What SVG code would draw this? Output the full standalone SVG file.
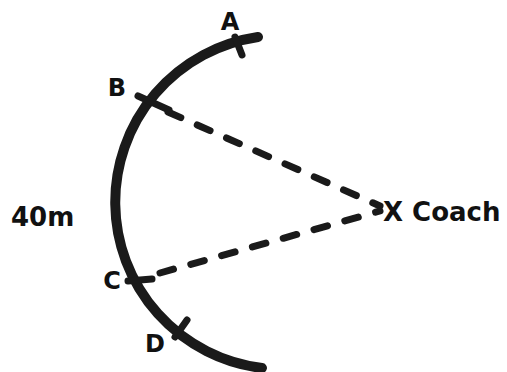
<svg xmlns="http://www.w3.org/2000/svg" width="507" height="372" viewBox="0 0 507 372">
<style>
.lbl{font-family:"DejaVu Sans","Liberation Sans",sans-serif;font-weight:bold;font-size:24px;fill:#111}
.big{font-size:26px}
.track{fill:none;stroke:#1a1a1a;stroke-width:10;stroke-linecap:round}
.tick{stroke:#1a1a1a;stroke-width:7;stroke-linecap:round}
.dash{stroke:#1a1a1a;stroke-width:7;stroke-linecap:round;stroke-dasharray:14 18;fill:none}
</style>
<rect width="507" height="372" fill="#fff"/>
<g id="track">
<path class="track" d="M258,37 A167,167 0 0 0 262,368"/>
</g>
<g id="connectors">
<line class="dash" x1="168" y1="112" x2="380" y2="206"/>
<line class="dash" x1="160" y1="273" x2="380" y2="211"/>
</g>
<g id="nodeA">
<line class="tick" x1="235" y1="37" x2="242" y2="55"/>
<text class="lbl" x="230" y="30" text-anchor="middle">A</text>
</g>
<g id="nodeB">
<line class="tick" x1="138" y1="96" x2="169" y2="110"/>
<text class="lbl" x="117" y="96" text-anchor="middle">B</text>
</g>
<g id="nodeC">
<line class="tick" x1="128" y1="281" x2="152" y2="279"/>
<text class="lbl" x="112" y="289" text-anchor="middle">C</text>
</g>
<g id="nodeD">
<line class="tick" x1="175" y1="337" x2="187" y2="320"/>
<text class="lbl" x="155" y="352" text-anchor="middle">D</text>
</g>
<g id="label40m">
<text class="lbl big" x="11" y="226">40m</text>
</g>
<g id="coach">
<text class="lbl big" x="383" y="221">X Coach</text>
</g>
</svg>
